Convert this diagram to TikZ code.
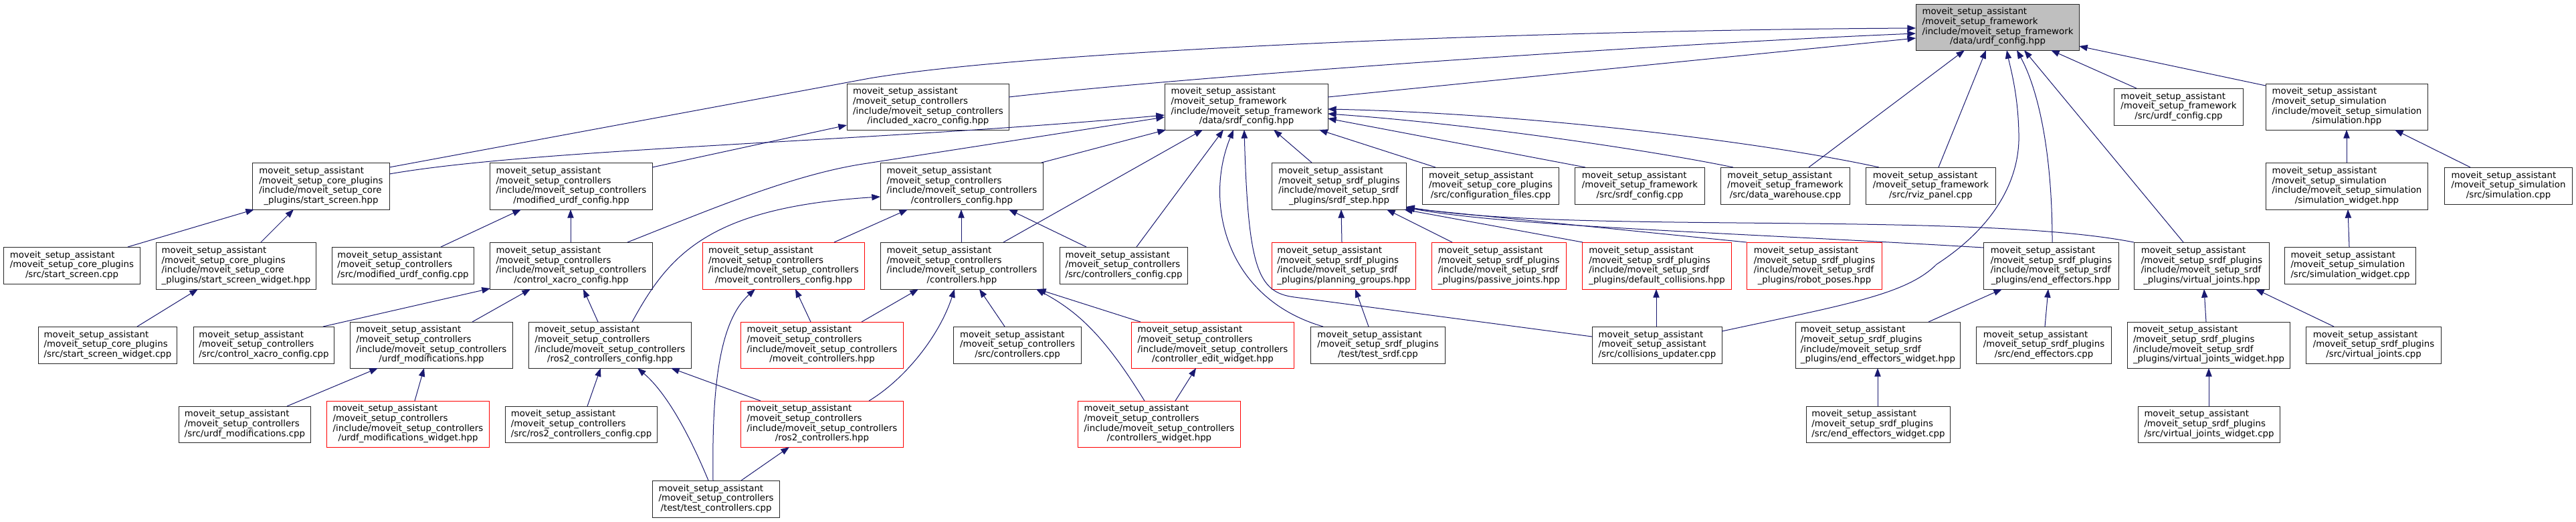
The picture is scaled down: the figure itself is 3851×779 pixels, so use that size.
\documentclass[tikz,border=0pt]{standalone}
\usepackage{fontspec}
\setmainfont{DejaVu Sans}
\usetikzlibrary{arrows.meta}
\definecolor{mblue}{HTML}{191970}
\newcommand\nMSA{moveit\_setup\_assistant}
\newcommand\nMSC{/moveit\_setup\_controllers}
\newcommand\nISC{/include/moveit\_setup\_controllers}
\newcommand\nMSF{/moveit\_setup\_framework}
\newcommand\nISF{/include/moveit\_setup\_framework}
\newcommand\nMSS{/moveit\_setup\_srdf\_plugins}
\newcommand\nISS{/include/moveit\_setup\_srdf}
\newcommand\nMCP{/moveit\_setup\_core\_plugins}
\newcommand\nICP{/include/moveit\_setup\_core}
\newcommand\nMSIM{/moveit\_setup\_simulation}
\newcommand\nISIM{/include/moveit\_setup\_simulation}
\newcommand\nlbl[2]{\begin{tabular}{@{}l@{}}#1\\\multicolumn{1}{@{}c@{}}{#2}\end{tabular}}
\newcommand\nedge[6]{\draw[dep] ([shift={(#2,#3)}]#1.north west) -- ([shift={(#5,#6)}]#4.north west);}
\tikzset{
  box/.style={draw=black!85,line width=0.75pt,fill=white,inner sep=0pt,anchor=north west,font=\fontsize{10}{11}\selectfont},
  redbox/.style={box,draw=red},
  rootbox/.style={box,fill=black!25},
  sz/.style 2 args={minimum width=#1*0.75pt,minimum height=#2*0.75pt},
  dep/.style={draw=mblue,line width=0.75pt,-{Triangle[length=9.5pt,width=7pt]}}
}
\begin{document}
\begin{tikzpicture}[x=0.75pt,y=-0.75pt]
\fill[white] (0,0) rectangle (3851,779);
\useasboundingbox (0,0) rectangle (3851,779);
% row 1
\node[rootbox,sz={244}{69}] (r) at (2864,6) {\nlbl{\nMSA\\\nMSF\\\nISF}{/data/urdf\_config.hpp}};
% row 2
\node[box,sz={242}{69}] (ixc) at (1266,125) {\nlbl{\nMSA\\\nMSC\\\nISC}{/included\_xacro\_config.hpp}};
\node[box,sz={244}{69}] (srdf) at (1741,125) {\nlbl{\nMSA\\\nMSF\\\nISF}{/data/srdf\_config.hpp}};
\node[box,sz={193}{55}] (ucpp) at (3160,132) {\nlbl{\nMSA\\\nMSF}{/src/urdf\_config.cpp}};
\node[box,sz={242}{69}] (sim) at (3387,125) {\nlbl{\nMSA\\\nMSIM\\\nISIM}{/simulation.hpp}};
% row 3
\node[box,sz={205}{70}] (ssh) at (377,243) {\nlbl{\nMSA\\\nMCP\\\nICP}{\_plugins/start\_screen.hpp}};
\node[box,sz={243}{70}] (muh) at (732,243) {\nlbl{\nMSA\\\nMSC\\\nISC}{/modified\_urdf\_config.hpp}};
\node[box,sz={243}{70}] (cch) at (1316,243) {\nlbl{\nMSA\\\nMSC\\\nISC}{/controllers\_config.hpp}};
\node[box,sz={201}{70}] (step) at (1901,243) {\nlbl{\nMSA\\\nMSS\\\nISS}{\_plugins/srdf\_step.hpp}};
\node[box,sz={204}{55}] (cfg) at (2126,250) {\nlbl{\nMSA\\\nMCP}{/src/configuration\_files.cpp}};
\node[box,sz={194}{55}] (scpp) at (2354,250) {\nlbl{\nMSA\\\nMSF}{/src/srdf\_config.cpp}};
\node[box,sz={193}{55}] (dw) at (2572,250) {\nlbl{\nMSA\\\nMSF}{/src/data\_warehouse.cpp}};
\node[box,sz={194}{55}] (rviz) at (2789,250) {\nlbl{\nMSA\\\nMSF}{/src/rviz\_panel.cpp}};
\node[box,sz={242}{70}] (simw) at (3387,243) {\nlbl{\nMSA\\\nMSIM\\\nISIM}{/simulation\_widget.hpp}};
\node[box,sz={191}{55}] (simcpp) at (3654,250) {\nlbl{\nMSA\\\nMSIM}{/src/simulation.cpp}};
% row 4
\node[box,sz={204}{55}] (sscpp) at (5,369) {\nlbl{\nMSA\\\nMCP}{/src/start\_screen.cpp}};
\node[box,sz={239}{70}] (ssw) at (233,362) {\nlbl{\nMSA\\\nMCP\\\nICP}{\_plugins/start\_screen\_widget.hpp}};
\node[box,sz={212}{55}] (mucpp) at (496,369) {\nlbl{\nMSA\\\nMSC}{/src/modified\_urdf\_config.cpp}};
\node[box,sz={243}{70}] (cxh) at (732,362) {\nlbl{\nMSA\\\nMSC\\\nISC}{/control\_xacro\_config.hpp}};
\node[redbox,sz={242}{70}] (mcch) at (1050,362) {\nlbl{\nMSA\\\nMSC\\\nISC}{/moveit\_controllers\_config.hpp}};
\node[box,sz={243}{70}] (ctrh) at (1316,362) {\nlbl{\nMSA\\\nMSC\\\nISC}{/controllers.hpp}};
\node[box,sz={191}{55}] (cccpp) at (1584,369) {\nlbl{\nMSA\\\nMSC}{/src/controllers\_config.cpp}};
\node[redbox,sz={215}{70}] (pg) at (1901,362) {\nlbl{\nMSA\\\nMSS\\\nISS}{\_plugins/planning\_groups.hpp}};
\node[redbox,sz={201}{70}] (pj) at (2140,362) {\nlbl{\nMSA\\\nMSS\\\nISS}{\_plugins/passive\_joints.hpp}};
\node[redbox,sz={223}{70}] (dc) at (2365,362) {\nlbl{\nMSA\\\nMSS\\\nISS}{\_plugins/default\_collisions.hpp}};
\node[redbox,sz={202}{70}] (rp) at (2611,362) {\nlbl{\nMSA\\\nMSS\\\nISS}{\_plugins/robot\_poses.hpp}};
\node[box,sz={202}{70}] (ee) at (2965,362) {\nlbl{\nMSA\\\nMSS\\\nISS}{\_plugins/end\_effectors.hpp}};
\node[box,sz={202}{70}] (vj) at (3190,362) {\nlbl{\nMSA\\\nMSS\\\nISS}{\_plugins/virtual\_joints.hpp}};
\node[box,sz={196}{55}] (swcpp) at (3415,369) {\nlbl{\nMSA\\\nMSIM}{/src/simulation\_widget.cpp}};
% row 5
\node[box,sz={207}{55}] (sswcpp) at (57,488) {\nlbl{\nMSA\\\nMCP}{/src/start\_screen\_widget.cpp}};
\node[box,sz={210}{55}] (cxcpp) at (289,488) {\nlbl{\nMSA\\\nMSC}{/src/control\_xacro\_config.cpp}};
\node[box,sz={243}{69}] (umh) at (523,481) {\nlbl{\nMSA\\\nMSC\\\nISC}{/urdf\_modifications.hpp}};
\node[box,sz={243}{69}] (rcch) at (790,481) {\nlbl{\nMSA\\\nMSC\\\nISC}{/ros2\_controllers\_config.hpp}};
\node[redbox,sz={243}{69}] (mch) at (1107,481) {\nlbl{\nMSA\\\nMSC\\\nISC}{/moveit\_controllers.hpp}};
\node[box,sz={191}{55}] (ctrcpp) at (1425,488) {\nlbl{\nMSA\\\nMSC}{/src/controllers.cpp}};
\node[redbox,sz={243}{69}] (cew) at (1691,481) {\nlbl{\nMSA\\\nMSC\\\nISC}{/controller\_edit\_widget.hpp}};
\node[box,sz={201}{55}] (tsrdf) at (1959,488) {\nlbl{\nMSA\\\nMSS}{/test/test\_srdf.cpp}};
\node[box,sz={194}{55}] (cu) at (2380,488) {\nlbl{\nMSA\\/moveit\_setup\_assistant}{/src/collisions\_updater.cpp}};
\node[box,sz={246}{69}] (eew) at (2684,481) {\nlbl{\nMSA\\\nMSS\\\nISS}{\_plugins/end\_effectors\_widget.hpp}};
\node[box,sz={202}{55}] (eecpp) at (2954,488) {\nlbl{\nMSA\\\nMSS}{/src/end\_effectors.cpp}};
\node[box,sz={243}{69}] (vjw) at (3180,481) {\nlbl{\nMSA\\\nMSS\\\nISS}{\_plugins/virtual\_joints\_widget.hpp}};
\node[box,sz={202}{55}] (vjcpp) at (3447,488) {\nlbl{\nMSA\\\nMSS}{/src/virtual\_joints.cpp}};
% row 6
\node[box,sz={197}{54}] (umcpp) at (267,607) {\nlbl{\nMSA\\\nMSC}{/src/urdf\_modifications.cpp}};
\node[redbox,sz={243}{69}] (umw) at (488,599) {\nlbl{\nMSA\\\nMSC\\\nISC}{/urdf\_modifications\_widget.hpp}};
\node[box,sz={227}{54}] (rcccpp) at (755,607) {\nlbl{\nMSA\\\nMSC}{/src/ros2\_controllers\_config.cpp}};
\node[redbox,sz={243}{69}] (r2h) at (1107,599) {\nlbl{\nMSA\\\nMSC\\\nISC}{/ros2\_controllers.hpp}};
\node[redbox,sz={243}{69}] (cw) at (1611,599) {\nlbl{\nMSA\\\nMSC\\\nISC}{/controllers\_widget.hpp}};
\node[box,sz={215}{54}] (eewcpp) at (2700,607) {\nlbl{\nMSA\\\nMSS}{/src/end\_effectors\_widget.cpp}};
\node[box,sz={212}{54}] (vjwcpp) at (3196,607) {\nlbl{\nMSA\\\nMSS}{/src/virtual\_joints\_widget.cpp}};
% row 7
\node[box,sz={190}{55}] (tc) at (975,718) {\nlbl{\nMSA\\\nMSC}{/test/test\_controllers.cpp}};

% straight connectors
\nedge{sscpp}{186}{0}{ssh}{3}{70}
\nedge{ssw}{157}{0}{ssh}{62}{70}
\nedge{sswcpp}{148}{0}{ssw}{63}{70}
\nedge{mucpp}{163}{0}{muh}{47}{70}
\nedge{cxh}{121}{0}{muh}{121}{70}
\nedge{muh}{243}{7}{ixc}{0}{62}
\nedge{srdf}{244}{20}{r}{0}{51}
\nedge{cch}{241}{0}{srdf}{2}{69}
\nedge{ctrh}{184}{0}{srdf}{57}{69}
\nedge{cccpp}{115}{0}{srdf}{88}{69}
\nedge{step}{60}{0}{srdf}{163}{69}
\nedge{cfg}{20}{0}{srdf}{231}{69}
\nedge{scpp}{16}{0}{srdf}{244}{52}
\nedge{pg}{105}{0}{step}{104}{70}
\nedge{pj}{31}{0}{step}{172}{70}
\nedge{dc}{1}{0}{step}{198}{70}
\nedge{rp}{0}{0}{step}{201}{68}
\nedge{ctrh}{121}{0}{cch}{121}{70}
\nedge{cccpp}{40}{0}{cch}{192}{70}
\nedge{mcch}{197}{0}{cch}{41}{70}
\nedge{umh}{183}{0}{cxh}{61}{70}
\nedge{rcch}{104}{0}{cxh}{140}{70}
\nedge{cxcpp}{194}{0}{cxh}{1}{69}
\nedge{umcpp}{162}{0}{umh}{42}{69}
\nedge{umw}{132}{0}{umh}{111}{69}
\nedge{rcccpp}{123}{0}{rcch}{108}{69}
\nedge{tc}{133}{0}{r2h}{73}{69}
\nedge{r2h}{30}{0}{rcch}{213}{69}
\nedge{mch}{105}{0}{mcch}{139}{70}
\nedge{mch}{181}{0}{ctrh}{57}{70}
\nedge{ctrcpp}{77}{0}{ctrh}{148}{70}
\nedge{cew}{14}{0}{ctrh}{235}{70}
\nedge{cw}{146}{0}{cew}{97}{69}
\nedge{tsrdf}{87}{0}{pg}{125}{70}
\nedge{cu}{96}{0}{dc}{111}{70}
\nedge{dw}{132}{0}{r}{73}{69}
\nedge{rviz}{109}{0}{r}{105}{69}
\nedge{vj}{74}{0}{r}{162}{69}
\nedge{ucpp}{34}{0}{r}{202}{69}
\nedge{sim}{0}{3}{r}{244}{63}
\nedge{simw}{121}{0}{sim}{121}{69}
\nedge{simcpp}{39}{0}{sim}{193}{69}
\nedge{swcpp}{97}{0}{simw}{123}{70}
\nedge{eew}{199}{0}{ee}{28}{70}
\nedge{eecpp}{103}{0}{ee}{97}{70}
\nedge{eewcpp}{107}{0}{eew}{123}{69}
\nedge{vjw}{118}{0}{vj}{105}{70}
\nedge{vjcpp}{42}{0}{vj}{182}{70}
\nedge{vjwcpp}{106}{0}{vjw}{122}{69}

% curved connectors
\draw[dep] ([shift={(205,7)}]ssh.north west) -- (1300,117) .. controls (1550,75) and (2300,45) .. ([shift={(0,36)}]r.north west);
\draw[dep] ([shift={(205,17)}]ssh.north west) .. controls (800,222) and (1300,212) .. ([shift={(0,47)}]srdf.north west);
\draw[dep] ([shift={(242,20)}]ixc.north west) .. controls (1800,112) and (2500,65) .. ([shift={(0,44)}]r.north west);
\draw[dep] ([shift={(206,0)}]cxh.north west) .. controls (1050,318) and (1180,262) .. (1290,245) -- ([shift={(0,50)}]srdf.north west);
\draw[dep] ([shift={(155,0)}]rcch.north west) .. controls (1000,380) and (1060,310) .. ([shift={(0,51)}]cch.north west);
\draw[dep] ([shift={(19,0)}]tsrdf.north west) .. controls (1830,445) and (1800,300) .. ([shift={(103,69)}]srdf.north west);
\draw[dep] ([shift={(0,15)}]cu.north west) -- (1935,444) .. controls (1880,437) and (1866,400) .. ([shift={(119,69)}]srdf.north west);
\draw[dep] ([shift={(19,0)}]dw.north west) .. controls (2470,225) and (2200,185) .. ([shift={(244,45)}]srdf.north west);
\draw[dep] ([shift={(20,0)}]rviz.north west) .. controls (2650,215) and (2300,170) .. ([shift={(244,38)}]srdf.north west);
\draw[dep] ([shift={(0,8)}]ee.north west) .. controls (2600,348) and (2250,338) .. ([shift={(201,67)}]step.north west);
\draw[dep] (vj.north west) .. controls (2950,315) and (2350,350) .. ([shift={(201,66)}]step.north west);
\draw[dep] ([shift={(84,0)}]tc.north west) .. controls (1035,660) and (1000,590) .. ([shift={(163,69)}]rcch.north west);
\draw[dep] ([shift={(91,0)}]tc.north west) .. controls (1064,580) and (1075,480) .. ([shift={(79,70)}]mcch.north west);
\draw[dep] ([shift={(192,0)}]r2h.north west) .. controls (1355,565) and (1405,500) .. ([shift={(111,70)}]ctrh.north west);
\draw[dep] ([shift={(100,0)}]cw.north west) .. controls (1650,500) and (1610,465) .. ([shift={(233,70)}]ctrh.north west);
\draw[dep] ([shift={(194,7)}]cu.north west) .. controls (2760,455) and (2850,440) .. (2895,395) .. controls (2980,340) and (3020,270) .. (3018,200) .. controls (3017,140) and (3005,100) .. ([shift={(136,69)}]r.north west);
\draw[dep] ([shift={(103,0)}]ee.north west) .. controls (3068,220) and (3045,130) .. ([shift={(151,69)}]r.north west);
\end{tikzpicture}
\end{document}
